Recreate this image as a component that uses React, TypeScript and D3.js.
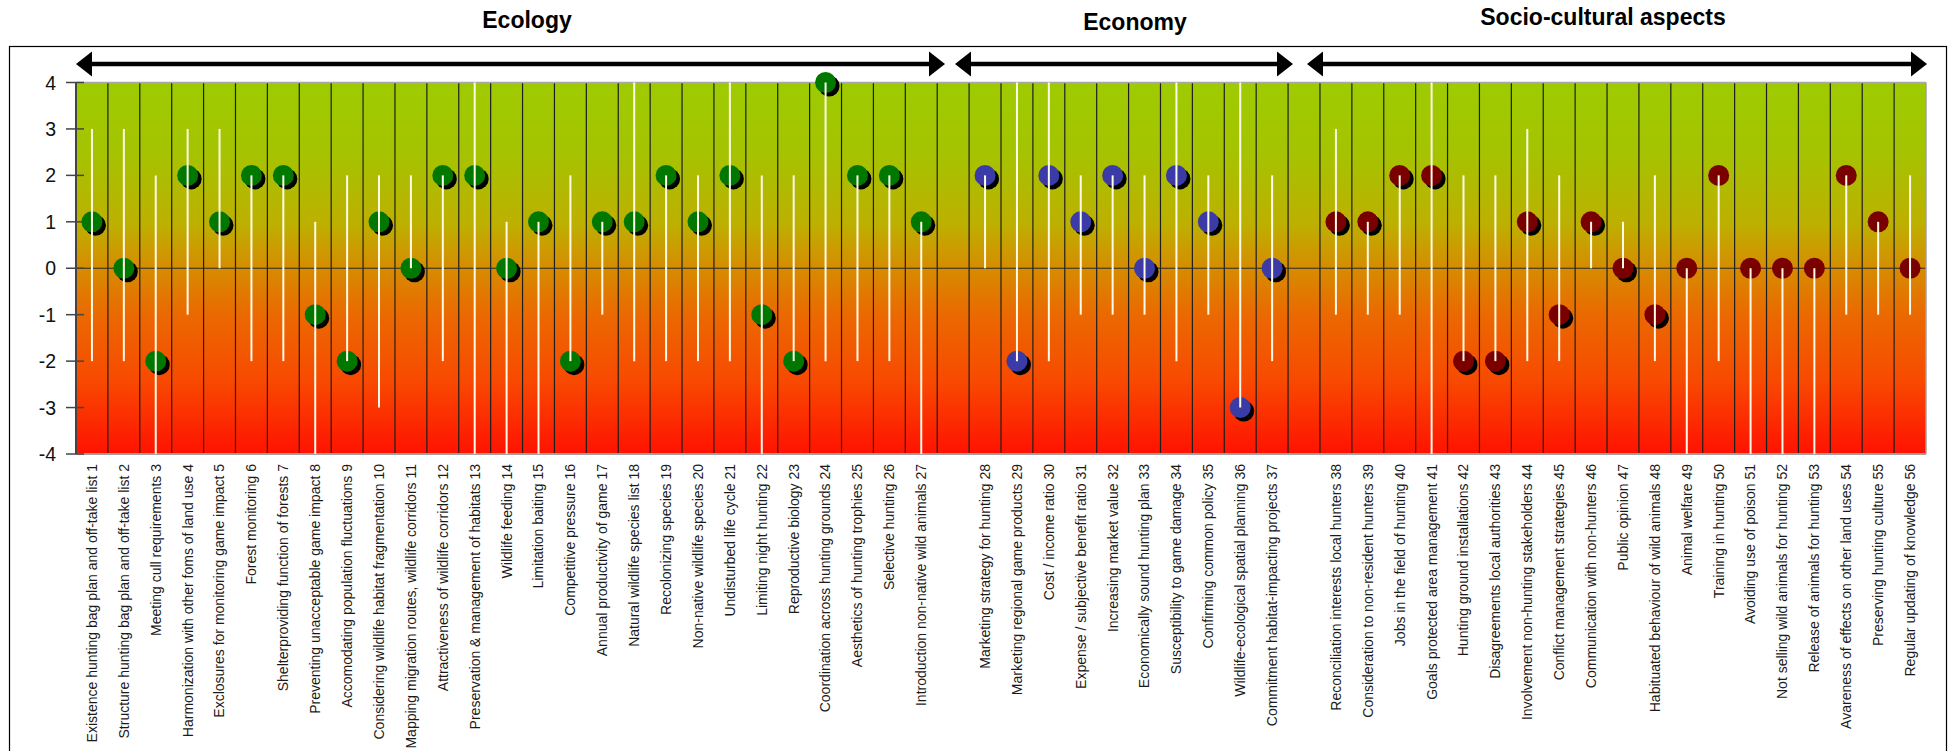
import React from "react";
import * as d3 from "d3";

// ---------------- DATA ----------------
const groupNames = ["Ecology", "Economy", "Socio-cultural aspects"];

const ecologyLabels = [
  "Existence hunting bag plan and off-take list 1",
  "Structure hunting bag plan and off-take list 2",
  "Meeting cull requirements 3",
  "Harmonization with other foms of land use 4",
  "Exclosures for monitoring game impact 5",
  "Forest monitoring 6",
  "Shelterproviding function of forests 7",
  "Preventing unacceptable game impact 8",
  "Accomodating population fluctuations 9",
  "Considering wildlife habitat fragmentation 10",
  "Mapping migration routes, wildlife corridors 11",
  "Attractiveness of wildlife corridors 12",
  "Preservation & management of habitats 13",
  "Wildlife feeding 14",
  "Limitation baiting 15",
  "Competitive pressure 16",
  "Annual productivity of game 17",
  "Natural wildlife species list 18",
  "Recolonizing species 19",
  "Non-native wildlife species 20",
  "Undisturbed life cycle 21",
  "Limiting night hunting 22",
  "Reproductive biology 23",
  "Coordination across hunting grounds 24",
  "Aesthetics of hunting trophies 25",
  "Selective hunting 26",
  "Introduction non-native wild animals 27",
];
const economyLabels = [
  "Marketing strategy for hunting 28",
  "Marketing regional game products 29",
  "Cost / income ratio 30",
  "Expense / subjective benefit ratio 31",
  "Increasing market value 32",
  "Economically sound hunting plan 33",
  "Susceptibility to game damage 34",
  "Confirming common policy 35",
  "Wildlife-ecological spatial planning 36",
  "Commitment habitat-impacting projects 37",
];
const socioLabels = [
  "Reconciliation interests local hunters 38",
  "Consideration to non-resident hunters 39",
  "Jobs in the field of hunting 40",
  "Goals protected area management 41",
  "Hunting ground installations 42",
  "Disagreements local authorities 43",
  "Involvement non-hunting stakeholders 44",
  "Conflict management strategies 45",
  "Communication with non-hunters 46",
  "Public opinion 47",
  "Habituated behaviour of wild animals 48",
  "Animal welfare 49",
  "Training in hunting 50",
  "Avoiding use of poison 51",
  "Not selling wild animals for hunting 52",
  "Release of animals for hunting 53",
  "Avareness of effects on other land uses 54",
  "Preserving hunting culture 55",
  "Regular updating of knowledge 56",
];

const ecologyValues = [1, 0, -2, 2, 1, 2, 2, -1, -2, 1, 0, 2, 2, 0, 1, -2, 1, 1, 2, 1, 2, -1, -2, 4, 2, 2, 1];
const ecologyLow = [-2, -2, -4, -1, 0, -2, -2, -4, -2, -3, 0, -2, -4, -4, -4, -2, -1, -2, -2, -2, -2, -4, -2, -2, -2, -2, -4];
const ecologyHigh = [3, 3, 2, 3, 3, 2, 2, 1, 2, 2, 2, 2, 4, 1, 1, 2, 1, 4, 2, 2, 4, 2, 2, 4, 2, 2, 1];

const economyValues = [2, -2, 2, 1, 2, 0, 2, 1, -3, 0];
const economyLow = [0, -2, -2, -1, -1, -1, -2, -1, -3, -2];
const economyHigh = [2, 4, 4, 2, 2, 2, 4, 2, 4, 2];

const socioValues = [1, 1, 2, 2, -2, -2, 1, -1, 1, 0, -1, 0, 2, 0, 0, 0, 2, 1, 0];
const socioLow = [-1, -1, -1, -4, -2, -2, -2, -2, 0, 0, -2, -4, -2, -4, -4, -4, -1, -1, -1];
const socioHigh = [3, 1, 2, 4, 2, 2, 3, 2, 1, 1, 2, 0, 2, 0, 0, 0, 2, 1, 2];

const yTicks = [4, 3, 2, 1, 0, -1, -2, -3, -4];

// ---------------- STYLE / LAYOUT ----------------
const W = 1950;
const H = 751;
const plotLeft = 76;
const plotRight = 1926;
const plotTop = 82.5;
const plotBottom = 454;
const groupColors = ["#007800", "#3b3ba8", "#7a0000"];
const titlePos = [
  { x: 527, y: 28 },
  { x: 1135, y: 30 },
  { x: 1603, y: 25 },
];
const arrowExtents = [
  [76, 945],
  [955, 1293],
  [1307, 1927],
];
const arrowY = 64;
const shadowUntil = 48; // items after this one are drawn without shadow
const font = "'Liberation Sans', Arial, sans-serif";

type Item = { key: string; label: string; value: number; lo: number; hi: number; group: number; n: number };

const groups = [
  { labels: ecologyLabels, values: ecologyValues, lo: ecologyLow, hi: ecologyHigh },
  { labels: economyLabels, values: economyValues, lo: economyLow, hi: economyHigh },
  { labels: socioLabels, values: socioValues, lo: socioLow, hi: socioHigh },
];

const items: Item[] = [];
const slots: string[] = [];
let counter = 0;
groups.forEach((g, gi) => {
  g.labels.forEach((label, i) => {
    counter += 1;
    const key = "c" + counter;
    items.push({ key, label, value: g.values[i], lo: g.lo[i], hi: g.hi[i], group: gi, n: counter });
    slots.push(key);
  });
  if (gi < groups.length - 1) slots.push("gap" + gi);
});

export default function App() {
  const x = d3.scaleBand<string>().domain(slots).range([plotLeft, plotRight]).padding(0);
  const y = d3.scaleLinear().domain([-4, 4]).range([plotBottom, plotTop]);
  const bw = x.bandwidth();
  const cx = (k: string) => (x(k) as number) + bw / 2;

  const arrowHead = (tip: number, dir: number) => {
    const len = 16;
    const half = 12.5;
    return `${tip},${arrowY} ${tip - dir * len},${arrowY - half} ${tip - dir * len},${arrowY + half}`;
  };

  return (
    <svg
      width={W}
      height={H}
      style={{ position: "absolute", left: 0, top: 0, background: "#fff" }}
      fontFamily={font}
    >
      <defs>
        <linearGradient id="bg" x1="0" y1={plotTop} x2="0" y2={plotBottom} gradientUnits="userSpaceOnUse">
          <stop offset="0" stopColor="#9ecb00" />
          <stop offset="0.18" stopColor="#a4c400" />
          <stop offset="0.38" stopColor="#bdb000" />
          <stop offset="0.5" stopColor="#d68c00" />
          <stop offset="0.62" stopColor="#ea6a00" />
          <stop offset="0.8" stopColor="#f84a00" />
          <stop offset="1" stopColor="#ff1200" />
        </linearGradient>
      </defs>

      {/* outer frame */}
      <rect x={9.5} y={46.5} width={1937} height={760} fill="none" stroke="#000" strokeWidth={1.2} />

      {/* titles */}
      {groupNames.map((name, i) => (
        <text
          key={name}
          x={titlePos[i].x}
          y={titlePos[i].y}
          textAnchor="middle"
          fontWeight="bold"
          fontSize={23}
          fill="#000"
        >
          {name}
        </text>
      ))}

      {/* arrows */}
      {arrowExtents.map(([a, b], i) => (
        <g key={"arr" + i}>
          <line x1={a + 10} x2={b - 10} y1={arrowY} y2={arrowY} stroke="#000" strokeWidth={4.5} />
          <polygon points={arrowHead(a, -1)} fill="#000" />
          <polygon points={arrowHead(b, 1)} fill="#000" />
        </g>
      ))}

      {/* plot background */}
      <rect x={plotLeft} y={plotTop} width={plotRight - plotLeft} height={plotBottom - plotTop} fill="url(#bg)" />

      {/* column separators */}
      {slots.slice(1).map((k) => (
        <line
          key={"sep" + k}
          x1={x(k) as number}
          x2={x(k) as number}
          y1={plotTop}
          y2={plotBottom}
          stroke="#1e1e1e"
          strokeWidth={1.2}
        />
      ))}

      {/* zero line */}
      <line x1={plotLeft} x2={plotRight} y1={y(0)} y2={y(0)} stroke="#2a2a2a" strokeWidth={1.2} />

      {/* plot frame */}
      <line x1={plotLeft} x2={plotRight} y1={plotTop} y2={plotTop} stroke="#a8a8a8" strokeWidth={1.5} />
      <line x1={plotLeft} x2={plotRight} y1={plotBottom} y2={plotBottom} stroke="#a0a0a0" strokeWidth={2} />
      <line x1={plotRight} x2={plotRight} y1={plotTop} y2={plotBottom} stroke="#a0a0a0" strokeWidth={1.5} />
      <line x1={plotLeft} x2={plotLeft} y1={plotTop} y2={plotBottom} stroke="#444" strokeWidth={2} />

      {/* y ticks */}
      {yTicks.map((t) => (
        <g key={"t" + t}>
          <line x1={66} x2={84} y1={y(t)} y2={y(t)} stroke="#444" strokeWidth={1.5} />
          <text x={56} y={y(t)} dy="0.36em" textAnchor="end" fontSize={19.5} fill="#111">
            {t}
          </text>
        </g>
      ))}

      {/* markers */}
      {items.map((d) => (
        <g key={"m" + d.key}>
          {d.n <= shadowUntil && <circle cx={cx(d.key) + 3.5} cy={y(d.value) + 3.5} r={10.5} fill="#000" />}
          <circle cx={cx(d.key)} cy={y(d.value)} r={10.5} fill={groupColors[d.group]} />
        </g>
      ))}

      {/* whiskers */}
      {items.map((d) => (
        <line
          key={"w" + d.key}
          x1={cx(d.key)}
          x2={cx(d.key)}
          y1={y(d.hi)}
          y2={y(d.lo)}
          stroke="#fffbe8"
          strokeWidth={2}
        />
      ))}

      {/* category labels */}
      {items.map((d) => (
        <text
          key={"l" + d.key}
          transform={`translate(${cx(d.key)},464) rotate(-90)`}
          textAnchor="end"
          dy="0.35em"
          fontSize={14}
          fill="#1a1a1a"
        >
          {d.label}
        </text>
      ))}
    </svg>
  );
}
